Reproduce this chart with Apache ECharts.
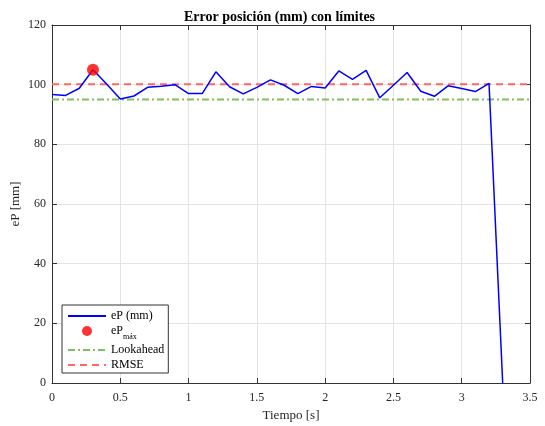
<!DOCTYPE html>
<html><head><meta charset="utf-8">
<script src="https://cdn.jsdelivr.net/npm/echarts@6/dist/echarts.min.js"></script>
<style>html,body{margin:0;padding:0;background:#fff}#c{width:545px;height:426px}</style>
</head><body><div id="c"></div>
<script>
var times = [0,0.1,0.2,0.3,0.4,0.5,0.6,0.7,0.8,0.9,1.0,1.1,1.2,1.3,1.4,1.5,1.6,1.7,1.8,1.9,2.0,2.1,2.2,2.3,2.4,2.5,2.6,2.7,2.8,2.9,3.0,3.1,3.2,3.3];
var eP = [96.7,96.4,98.8,105.0,100.2,95.2,96.2,99.1,99.5,100.0,97.0,97.0,104.3,99.3,96.9,99.1,101.6,99.8,97.0,99.4,98.9,104.6,101.8,104.8,95.6,99.8,104.1,97.8,96.1,99.6,98.7,97.7,100.4,0];
var ePmax = [0.3, 105.0];
var lookahead = 95.0;
var rmse = 100.1;
var xRange = [0, 3.5];
var xTickStep = 0.5;
var yRange = [0, 120];
var yTickStep = 20;

var F = 'Liberation Serif';
var axisCol = '#333';
var chart = echarts.init(document.getElementById('c'), null, {renderer:'canvas'});
var lineData = times.map(function(t,i){return [t, eP[i]];});
var lookData = xRange.map(function(x){return [x, lookahead];});
var rmseData = xRange.map(function(x){return [x, rmse];});

function xAx(pos, show){
  return {type:'value', position:pos, min:xRange[0], max:xRange[1], interval:xTickStep,
    axisLine:{show:true, onZero:false, lineStyle:{color:axisCol, width:1}},
    axisTick:{show:true, inside:true, length:5, lineStyle:{color:axisCol}},
    axisLabel:{show:show, fontFamily:F, fontSize:12, color:'#262626', margin:9},
    splitLine:{show:show, lineStyle:{color:'#e3e3e3', width:1}},
    name: show ? 'Tiempo [s]' : '', nameLocation:'middle', nameGap:22,
    nameTextStyle:{fontFamily:F, fontSize:13, color:'#262626'}};
}
function yAx(pos, show){
  return {type:'value', position:pos, min:yRange[0], max:yRange[1], interval:yTickStep,
    axisLine:{show:true, onZero:false, lineStyle:{color:axisCol, width:1}},
    axisTick:{show:true, inside:true, length:5, lineStyle:{color:axisCol}},
    axisLabel:{show:show, fontFamily:F, fontSize:12, color:'#262626', margin:6},
    splitLine:{show:show, lineStyle:{color:'#e3e3e3', width:1}},
    name: show ? 'eP [mm]' : '', nameLocation:'middle', nameGap:30, nameMoveOverlap:false,
    nameTextStyle:{fontFamily:F, fontSize:13, color:'#262626'}};
}

chart.setOption({
  animation:false,
  backgroundColor:'#fff',
  title:{text:'Error posición (mm) con límites', left:179, top:5,
    textStyle:{fontFamily:F, fontSize:14, fontWeight:'bold', color:'#000'}},
  grid:{left:52, right:15, top:25, bottom:43, containLabel:false, outerBoundsMode:'none'},
  xAxis:[xAx('bottom', true), xAx('top', false)],
  yAxis:[yAx('left', true), yAx('right', false)],
  legend:{orient:'vertical', left:62, top:305, itemWidth:38, itemHeight:10, itemGap:3,
    padding:[5,4,2,5],
    backgroundColor:'#fff', borderColor:'#333', borderWidth:1,
    textStyle:{fontFamily:F, fontSize:12, color:'#000',
      rich:{a:{fontFamily:F, fontSize:12, color:'#000'},
            s:{fontFamily:F, fontSize:8, color:'#000', padding:[12,0,0,0]}}},
    formatter:function(n){ if(n==='ePmax') return '{a|eP}{s|máx}'; return n; },
    data:[{name:'eP (mm)', itemStyle:{opacity:0}},
          {name:'ePmax'},
          {name:'Lookahead', itemStyle:{opacity:0}},
          {name:'RMSE', itemStyle:{opacity:0}}]},
  series:[
    {name:'eP (mm)', type:'line', data:lineData, showSymbol:false, symbol:'none',
      lineStyle:{color:'#0000ff', width:1.5}, itemStyle:{color:'#0000ff'}, z:3},
    {name:'ePmax', type:'scatter', data:[ePmax], symbol:'circle', symbolSize:12,
      itemStyle:{color:'#ff0000'}, z:5},
    {name:'Lookahead', type:'line', data:lookData, showSymbol:false, symbol:'none',
      lineStyle:{color:'#7fbf5f', width:2, type:[7,3,2,3]}, itemStyle:{color:'#7fbf5f'}, z:2},
    {name:'RMSE', type:'line', data:rmseData, showSymbol:false, symbol:'none',
      lineStyle:{color:'#ff6666', width:2, type:[7,5]}, itemStyle:{color:'#ff6666'}, z:2}
  ]
});
</script></body></html>
